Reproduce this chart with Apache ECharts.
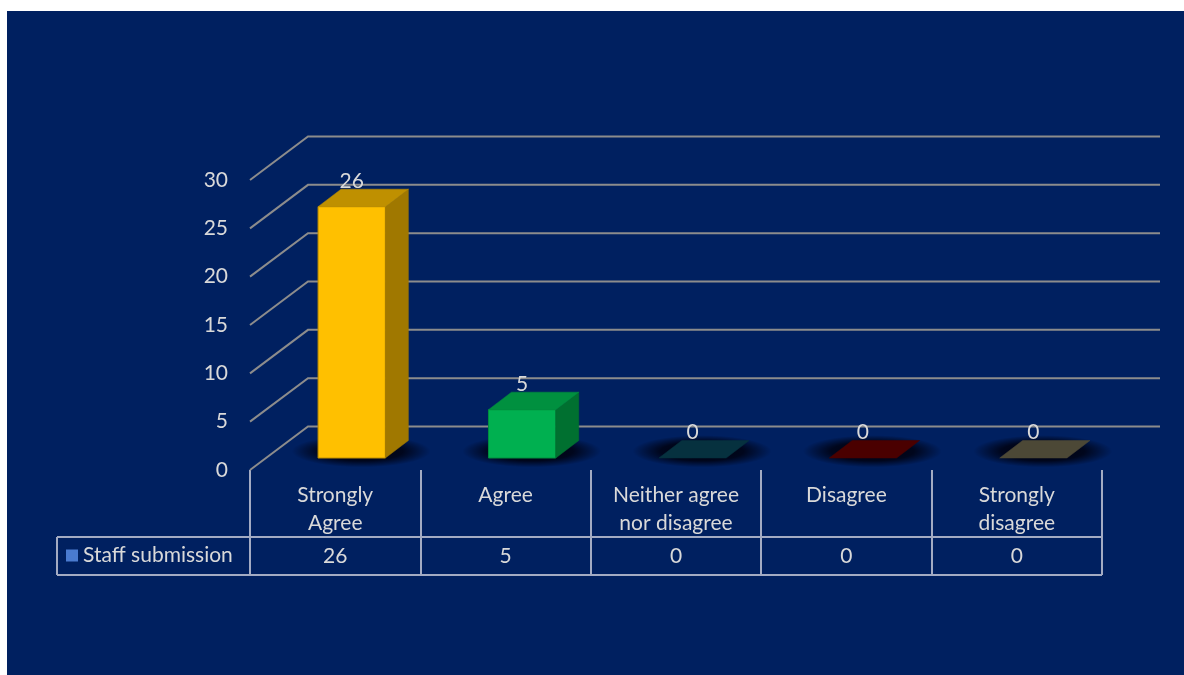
<!DOCTYPE html>
<html><head><meta charset="utf-8">
<script src="https://cdn.jsdelivr.net/npm/echarts@6/dist/echarts.min.js"></script>
<style>
html,body{margin:0;padding:0;background:#fff;}
#bg{position:absolute;left:7px;top:11px;width:1177px;height:664px;background:#002060;}
#chart{position:absolute;left:0;top:0;width:1184px;height:675px;}
</style>
</head><body><div id="bg"></div><div id="chart"></div>
<script>
// ---- data ----
const categories = ['Strongly\nAgree', 'Agree', 'Neither agree\nnor disagree', 'Disagree', 'Strongly\ndisagree'];
const seriesName = 'Staff submission';
const values = [26, 5, 0, 0, 0];
const yTicks = [0, 5, 10, 15, 20, 25, 30];

// ---- styles ----
const frontColors = ['#FFC000', '#00B050', '#0B3A4A', '#5A0000', '#5A5544'];
const topColors   = ['#BF9000', '#00903F', '#06313F', '#4A0000', '#4C4836'];
const sideColors  = ['#A07800', '#007030', '#042A36', '#3A0000', '#3E3A2C'];
const textColor = '#D9D9D9';
const fontFamily = 'Lato, "Noto Sans", sans-serif';
const FS = 21;

const chart = echarts.init(document.getElementById('chart'));

function renderGrid(params, api) {
  const cs = params.coordSys;
  const y = api.coord([0, api.value(1)])[1];
  return {
    type: 'polyline',
    shape: { points: [[cs.x, y], [cs.x + 58, y - 43.5], [cs.x + cs.width + 58, y - 43.5]] },
    style: { stroke: '#8C8C8C', lineWidth: 2, fill: null }
  };
}

function renderBar(params, api) {
  const i = api.value(0), v = api.value(1);
  const b = api.coord([i, 0]), t = api.coord([i, v]);
  const cw = api.size([1, 0])[0];
  const bw = cw * 0.395;
  const fx = cw * 0.097, fy = -12;
  const dx = 23, dy = -17.5;
  const cx = b[0] + fx;
  const x0 = cx - bw / 2, x1 = cx + bw / 2, yb = b[1] + fy, yt = t[1] + fy;
  const children = [];
  const hx = (x0 + x1 + dx) / 2 - 2, hy = yb + dy / 2 + 2;
  const R = (x1 + dx - x0) / 2 + 24;
  children.push({
    type: 'circle', x: hx, y: hy, scaleY: 16 / R,
    shape: { cx: 0, cy: 0, r: R },
    style: { fill: new echarts.graphic.RadialGradient(0.5, 0.5, 0.5, [
      { offset: 0, color: 'rgba(0,0,12,1)' },
      { offset: 0.6, color: 'rgba(0,0,12,0.8)' },
      { offset: 1, color: 'rgba(0,0,12,0)' }
    ]) }
  });
  if (yb - yt > 0.5) {
    children.push({ type: 'polygon', shape: { points: [[x0, yt], [x1, yt], [x1, yb], [x0, yb]] },
      style: { fill: frontColors[i], stroke: topColors[i], lineWidth: 1 } });
    children.push({ type: 'polygon', shape: { points: [[x1, yt], [x1 + dx, yt + dy], [x1 + dx, yb + dy], [x1, yb]] },
      style: { fill: sideColors[i], stroke: sideColors[i], lineWidth: 0.5 } });
  }
  children.push({ type: 'polygon', shape: { points: [[x0, yt], [x1, yt], [x1 + dx, yt + dy], [x0 + dx, yt + dy]] },
    style: { fill: topColors[i], stroke: topColors[i], lineWidth: 0.5 } });
  children.push({
    type: 'text',
    style: { text: String(v), x: cx, y: yt + dy - 8, align: 'center', verticalAlign: 'middle',
      textAlign: 'center', textVerticalAlign: 'middle', fill: textColor, font: FS + 'px ' + fontFamily }
  });
  return { type: 'group', children };
}

const tableLine = { stroke: '#A3ABC3', lineWidth: 2 };

chart.setOption({
  animation: false,
  backgroundColor: 'transparent',
  textStyle: { fontFamily: fontFamily },
  grid: { left: 250, right: 82, top: 180, bottom: 205 },
  legend: {
    data: [{ name: seriesName, icon: 'rect' }],
    left: 66, top: 545, padding: 0, itemWidth: 12, itemHeight: 12, itemGap: 5,
    selectedMode: false,
    textStyle: { color: textColor, fontSize: FS, fontFamily: fontFamily }
  },
  xAxis: [{
    type: 'category', data: categories, boundaryGap: true,
    axisLine: { show: false },
    axisTick: { show: true, length: 105, lineStyle: { color: '#A3ABC3', width: 2 } },
    axisLabel: { color: textColor, fontSize: FS, lineHeight: 28, margin: 11, interval: 0, fontFamily: fontFamily },
    splitLine: { show: false }
  }, {
    type: 'category', data: categories, position: 'bottom', offset: 0,
    axisLine: { show: false }, axisTick: { show: false },
    axisLabel: { color: textColor, fontSize: FS, margin: 86, interval: 0, verticalAlign: 'middle',
      fontFamily: fontFamily, formatter: (val, idx) => String(values[idx]) }
  }],
  yAxis: {
    type: 'value', min: 0, max: 30, interval: 5,
    axisLine: { show: false }, axisTick: { show: false }, splitLine: { show: false },
    axisLabel: { color: textColor, fontSize: FS, margin: 22, fontFamily: fontFamily }
  },
  graphic: [
    { type: 'line', shape: { x1: 57, y1: 537, x2: 1102, y2: 537 }, style: tableLine },
    { type: 'line', shape: { x1: 57, y1: 575, x2: 1102, y2: 575 }, style: tableLine },
    { type: 'line', shape: { x1: 57, y1: 537, x2: 57, y2: 575 }, style: tableLine }
  ],
  series: [{
    type: 'custom', name: 'grid', clip: false, z: 1, silent: true,
    renderItem: renderGrid,
    data: yTicks.map(v => [0, v])
  }, {
    type: 'custom', name: seriesName, clip: false, z: 3,
    itemStyle: { color: '#4A7BD0' },
    renderItem: renderBar,
    data: values.map((v, i) => [i, v])
  }]
});
</script>
</body></html>
